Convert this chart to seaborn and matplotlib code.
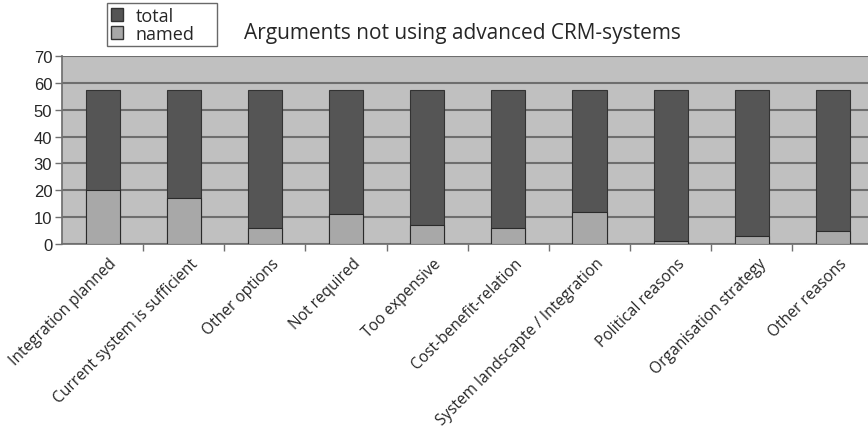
import matplotlib
matplotlib.use("Agg")
import matplotlib.pyplot as plt
from matplotlib.patches import Patch
from matplotlib.transforms import ScaledTranslation
import seaborn as sns
import pandas as pd

categories = [
    "Integration planned",
    "Current system is sufficient",
    "Other options",
    "Not required",
    "Too expensive",
    "Cost-benefit-relation",
    "System landscapte / Integration",
    "Political reasons",
    "Organisation strategy",
    "Other reasons",
]
total = [57.5, 57.5, 57.5, 57.5, 57.5, 57.5, 57.5, 57.5, 57.5, 57.5]
named = [20, 17, 6, 11, 7, 6, 12, 1, 3, 5]
y_ticks = [0, 10, 20, 30, 40, 50, 60, 70]

df = pd.DataFrame({"category": categories, "total": total, "named": named})

sns.set_theme(style="white")
plt.rcParams["font.family"] = ["Liberation Sans", "DejaVu Sans"]

DARK = "#555555"
LIGHT = "#a8a8a8"
BG = "#c0c0c0"
GRID = "#6e6e6e"

fig = plt.figure(figsize=(8.68, 4.31), dpi=100)
ax = fig.add_axes([0.0714, 0.4316, 0.935, 0.4361])
ax.set_facecolor(BG)

sns.barplot(data=df, x="category", y="total", color=DARK, width=0.42,
            edgecolor="#333333", linewidth=0.8, saturation=1, ax=ax, zorder=3)
sns.barplot(data=df, x="category", y="named", color=LIGHT, width=0.42,
            edgecolor="#2a2a2a", linewidth=0.8, saturation=1, ax=ax, zorder=4)

ax.set_ylim(0, 70)
ax.set_xlim(-0.5, len(categories) - 0.5)
ax.set_yticks(y_ticks)
ax.yaxis.grid(True, color=GRID, linewidth=1.5, zorder=1)
ax.set_axisbelow(True)
ax.set_xlabel("")
ax.set_ylabel("")

for side in ["top", "right"]:
    ax.spines[side].set_visible(False)
ax.spines["left"].set_color("#707070")
ax.spines["bottom"].set_color("#707070")

ax.tick_params(axis="y", which="major", length=5, width=1, color="#707070",
               labelsize=12, pad=2, left=True)
# category boundaries carry the tick marks
ax.set_xticks([i + 0.5 for i in range(len(categories) - 1)], minor=True)
ax.tick_params(axis="x", which="minor", length=5, width=1, color="#707070",
               bottom=True)
ax.tick_params(axis="x", which="major", length=0, pad=8)
ax.set_xticks(range(len(categories)))
ax.set_xticklabels(categories, rotation=45, ha="right", rotation_mode="anchor",
                   fontsize=11.2, family=["Open Sans", "DejaVu Sans"])
shift = ScaledTranslation(0.06, 0, fig.dpi_scale_trans)
for lbl in ax.get_xticklabels():
    lbl.set_transform(lbl.get_transform() + shift)

fig.text(0.533, 0.922, "Arguments not using advanced CRM-systems",
         ha="center", va="center", fontsize=15,
         family=["Open Sans", "DejaVu Sans"])

handles = [Patch(facecolor=DARK, edgecolor="#333333", label="total"),
           Patch(facecolor=LIGHT, edgecolor="#333333", label="named")]
leg = fig.legend(handles=handles, loc="upper left", mode="expand",
                 bbox_to_anchor=(107 / 868, 1 - 50 / 431, 110 / 868, 46 / 431),
                 frameon=True, fancybox=False,
                 handlelength=0.7, handleheight=0.7, handletextpad=0.7,
                 borderpad=0.2, labelspacing=0.0, borderaxespad=0,
                 prop={"family": ["Open Sans", "DejaVu Sans"], "size": 13})
leg.get_frame().set_edgecolor("#444444")
leg.get_frame().set_linewidth(1.0)

fig.savefig("out.png", dpi=100)
